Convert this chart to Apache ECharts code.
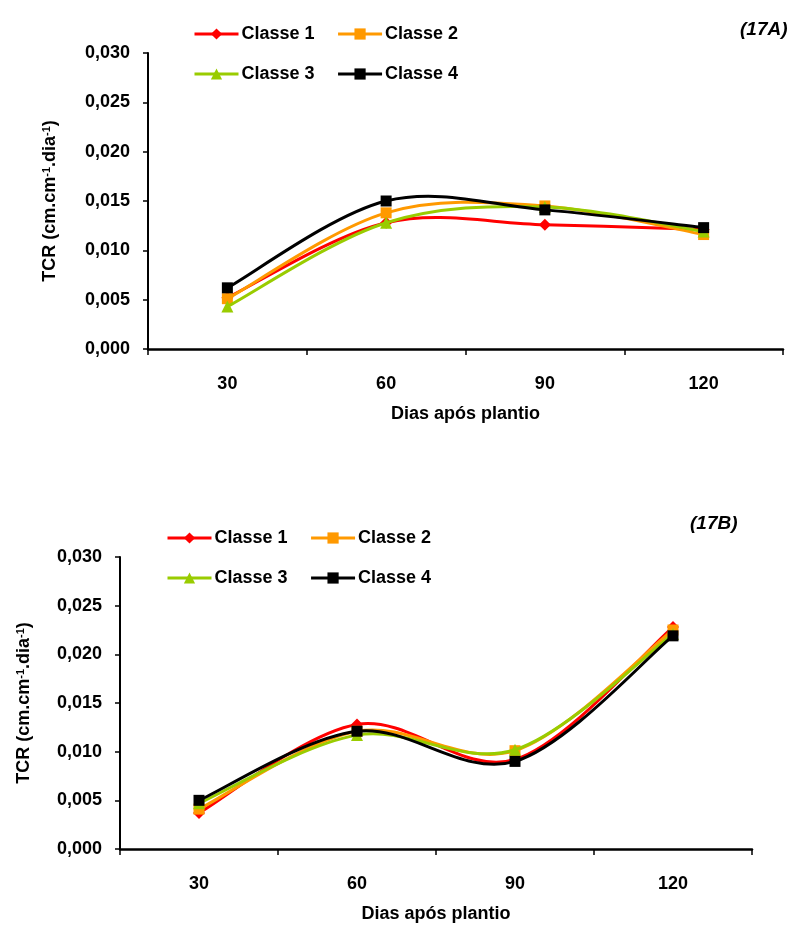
<!DOCTYPE html>
<html>
<head>
<meta charset="utf-8">
<script src="https://cdn.jsdelivr.net/npm/echarts@6/dist/echarts.min.js"></script>
<style>
html,body{margin:0;padding:0;background:#fff;}
#chart{width:792px;height:928px;}
</style>
</head>
<body>
<div id="chart"></div>
<script>
const categories = ['30', '60', '90', '120'];
const seriesNames = ['Classe 1', 'Classe 2', 'Classe 3', 'Classe 4'];
const yTicks = [0, 0.005, 0.010, 0.015, 0.020, 0.025, 0.030];

// Chart 17A
const a_classe1 = [0.0052, 0.0128, 0.0126, 0.0121];
const a_classe2 = [0.0051, 0.0138, 0.0145, 0.0116];
const a_classe3 = [0.0043, 0.0128, 0.0144, 0.0119];
const a_classe4 = [0.0062, 0.0150, 0.0141, 0.0123];

// Chart 17B
const b_classe1 = [0.0037, 0.0128, 0.0092, 0.0228];
const b_classe2 = [0.0041, 0.0121, 0.0101, 0.0225];
const b_classe3 = [0.0047, 0.0117, 0.0102, 0.0221];
const b_classe4 = [0.0050, 0.0121, 0.0090, 0.0219];

const colors = ['#FF0000', '#FF9900', '#99CC00', '#000000'];
const symbols = ['diamond', 'rect', 'triangle', 'rect'];
const symbolSizes = [12, 11, 12, 11];

const FONT = '"Liberation Sans", Arial, sans-serif';
const chart = echarts.init(document.getElementById('chart'), null, {renderer: 'canvas'});

// Smooth curve (Catmull-Rom style, like spreadsheet smoothed lines), positioned via the axes' coord system
function curveSeries(name, vals, gi, color, z) {
  const n = vals.length;
  return {
    name: name + ' (curva)',
    type: 'custom',
    xAxisIndex: gi, yAxisIndex: gi,
    data: vals.map((v, k) => [k, v]),
    z: z,
    silent: true,
    renderItem: function (params, api) {
      const i = params.dataIndex;
      if (i >= n - 1) return null;
      const pts = vals.map((v, k) => api.coord([k, v]));
      const p0 = pts[Math.max(i - 1, 0)], p1 = pts[i], p2 = pts[i + 1], p3 = pts[Math.min(i + 2, n - 1)];
      const t = 6;
      return {
        type: 'bezierCurve',
        shape: {
          x1: p1[0], y1: p1[1], x2: p2[0], y2: p2[1],
          cpx1: p1[0] + (p2[0] - p0[0]) / t, cpy1: p1[1] + (p2[1] - p0[1]) / t,
          cpx2: p2[0] - (p3[0] - p1[0]) / t, cpy2: p2[1] - (p3[1] - p1[1]) / t
        },
        style: {stroke: color, lineWidth: 3, fill: null}
      };
    }
  };
}

function mkSeries(names, datas, gi) {
  const out = [];
  names.forEach((n, i) => {
    out.push(curveSeries(n, datas[i], gi, colors[i], 2 + 2 * i));
    out.push({
      name: n,
      type: 'line',
      xAxisIndex: gi, yAxisIndex: gi,
      data: datas[i],
      symbol: symbols[i],
      symbolSize: symbolSizes[i],
      showAllSymbol: true,
      color: colors[i],
      lineStyle: {width: 3, color: colors[i], opacity: 0},
      itemStyle: {color: colors[i]},
      z: 3 + 2 * i
    });
  });
  return out;
}

function xAxis(gi) {
  return {
    type: 'category', gridIndex: gi, data: categories, boundaryGap: true,
    name: 'Dias após plantio', nameLocation: 'middle', nameGap: 56,
    nameTextStyle: {fontFamily: FONT, fontWeight: 'bold', fontSize: 18, color: '#000'},
    axisLine: {lineStyle: {color: '#000', width: 2.5}},
    axisTick: {show: true, inside: false, length: 6, alignWithLabel: false, lineStyle: {color: '#000', width: 1.5}},
    axisLabel: {fontFamily: FONT, fontWeight: 'bold', fontSize: 18, color: '#000', margin: 26},
    splitLine: {show: false}
  };
}

function yAxis(gi, gap) {
  return {
    type: 'value', gridIndex: gi, min: 0, max: 0.030, interval: 0.005,
    name: 'TCR (cm.cm{sup|-1}.dia{sup|-1})', nameLocation: 'middle', nameGap: gap, nameRotate: 90,
    nameTextStyle: {fontFamily: FONT, fontWeight: 'bold', fontSize: 18, color: '#000',
      rich: {sup: {fontFamily: FONT, fontWeight: 'bold', fontSize: 11, color: '#000', verticalAlign: 'top', padding: [0, 0, 8, 0]}}},
    axisLine: {show: true, lineStyle: {color: '#000', width: 2}},
    axisTick: {show: true, inside: false, length: 5, lineStyle: {color: '#000', width: 1.5}},
    axisLabel: {fontFamily: FONT, fontWeight: 'bold', fontSize: 18, color: '#000', margin: 18,
      formatter: v => v.toFixed(3).replace('.', ',')},
    splitLine: {show: false}
  };
}

function legend(data, left, top) {
  return {
    data: data, left: left, top: top, orient: 'horizontal', padding: 0,
    itemWidth: 44, itemHeight: 14, itemGap: 22,
    lineStyle: {width: 3, opacity: 1},
    textStyle: {fontFamily: FONT, fontWeight: 'bold', fontSize: 18, color: '#000', padding: [0, 0, 0, -2]},
    selectedMode: false
  };
}

chart.setOption({
  animation: false,
  backgroundColor: '#fff',
  title: [
    {text: '(17A)', left: 735, top: 15, textStyle: {fontFamily: FONT, fontWeight: 'bold', fontStyle: 'italic', fontSize: 19, color: '#000'}},
    {text: '(17B)', left: 685, top: 509, textStyle: {fontFamily: FONT, fontWeight: 'bold', fontStyle: 'italic', fontSize: 19, color: '#000'}}
  ],
  legend: [
    legend([seriesNames[0], seriesNames[1]], 193, 25),
    legend([seriesNames[2], seriesNames[3]], 193, 65),
    legend([seriesNames[0], seriesNames[1]], 166, 529),
    legend([seriesNames[2], seriesNames[3]], 166, 569)
  ],
  grid: [
    {left: 148, top: 53, width: 635, height: 296, containLabel: false},
    {left: 120, top: 557, width: 632, height: 292, containLabel: false}
  ],
  xAxis: [xAxis(0), xAxis(1)],
  yAxis: [yAxis(0, 88), yAxis(1, 86)],
  series: [
    ...mkSeries(seriesNames, [a_classe1, a_classe2, a_classe3, a_classe4], 0),
    ...mkSeries(seriesNames, [b_classe1, b_classe2, b_classe3, b_classe4], 1)
  ]
});
</script>
</body>
</html>
